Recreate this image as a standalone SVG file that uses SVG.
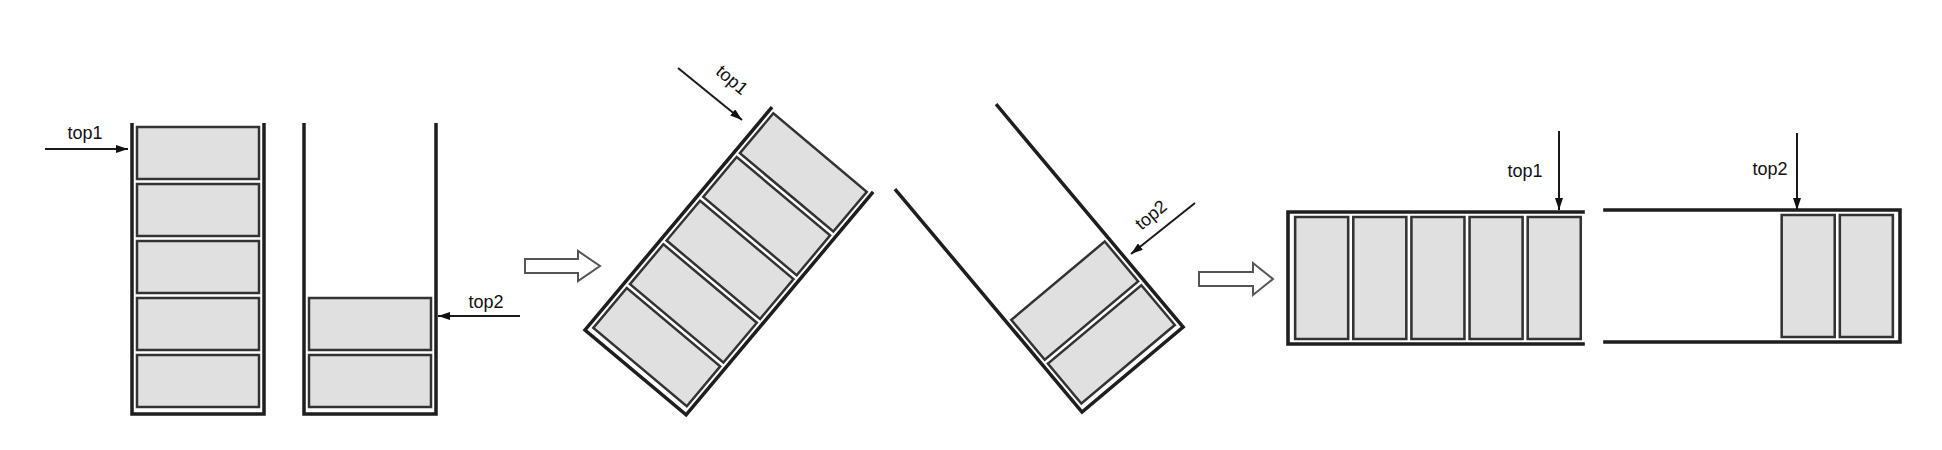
<svg xmlns="http://www.w3.org/2000/svg" xmlns:xlink="http://www.w3.org/1999/xlink" width="1942" height="450" viewBox="0 0 1942 450">
<style>
.wall{stroke:#1e1e1e;stroke-width:3.5;fill:none;stroke-linejoin:miter}
.cell{fill:#e0e0e0;stroke:#333;stroke-width:2.5}
.ptr{stroke:#1a1a1a;stroke-width:2;fill:none}
.lbl{font-family:"Liberation Sans",Arial,sans-serif;font-size:18px;fill:#111}
.hollow{fill:#fff;stroke:#555;stroke-width:2;stroke-linejoin:miter}
</style>
<defs>
<marker id="ah" viewBox="0 0 12 8" refX="12" refY="4" markerWidth="12" markerHeight="8" markerUnits="userSpaceOnUse" orient="auto"><path d="M0,0 L12,4 L0,8 Z" fill="#111"/></marker>
<path id="frame" class="wall" d="M0,-291 V0 H132 V-291"/>
<rect id="c0" class="cell" x="5" y="-59" width="122" height="52"/>
<rect id="c1" class="cell" x="5" y="-116" width="122" height="52"/>
<rect id="c2" class="cell" x="5" y="-173" width="122" height="52"/>
<rect id="c3" class="cell" x="5" y="-230" width="122" height="52"/>
<rect id="c4" class="cell" x="5" y="-287" width="122" height="52"/>
<g id="full"><use xlink:href="#c0"/><use xlink:href="#c1"/><use xlink:href="#c2"/><use xlink:href="#c3"/><use xlink:href="#c4"/><use xlink:href="#frame"/></g>
<g id="two"><use xlink:href="#c0"/><use xlink:href="#c1"/><use xlink:href="#frame"/></g>
</defs>

<g id="stack1-upright" transform="translate(132,414)"><use xlink:href="#full"/></g>
<g id="stack2-upright" transform="translate(304,414)"><use xlink:href="#two"/></g>
<g id="stack1-tilted" transform="translate(585,330) rotate(40)"><use xlink:href="#full"/></g>
<g id="stack2-tilted" transform="translate(1082,412) rotate(-40)"><use xlink:href="#two"/></g>
<g id="stack1-flat" transform="translate(1288,212) rotate(90) scale(1,1.02)"><use xlink:href="#full"/></g>
<g id="stack2-flat" transform="translate(1900,342) rotate(-90) scale(1,1.02)"><use xlink:href="#two"/></g>

<g id="step-arrows">
<path class="hollow" d="M525,259 H578 V251 L600,266 L578,281 V273 H525 Z"/>
<path class="hollow" d="M1199,272 H1253 V263 L1273,279 L1253,295 V286 H1199 Z"/>
</g>

<g id="connectors">
<line class="ptr" x1="45" y1="149" x2="128" y2="149" marker-end="url(#ah)"/>
<line class="ptr" x1="520" y1="316" x2="438" y2="316" marker-end="url(#ah)"/>
<line class="ptr" x1="678" y1="68" x2="742" y2="120" marker-end="url(#ah)"/>
<line class="ptr" x1="1195" y1="203" x2="1131" y2="254" marker-end="url(#ah)"/>
<line class="ptr" x1="1559" y1="131" x2="1559" y2="210" marker-end="url(#ah)"/>
<line class="ptr" x1="1797" y1="133" x2="1797" y2="210" marker-end="url(#ah)"/>
</g>

<g id="labels">
<text class="lbl" x="85" y="139" text-anchor="middle">top1</text>
<text class="lbl" x="486" y="308" text-anchor="middle">top2</text>
<text class="lbl" text-anchor="middle" dominant-baseline="central" transform="translate(732,80) rotate(40)">top1</text>
<text class="lbl" text-anchor="middle" dominant-baseline="central" transform="translate(1151,215) rotate(-40)">top2</text>
<text class="lbl" x="1525" y="177" text-anchor="middle">top1</text>
<text class="lbl" x="1770" y="175" text-anchor="middle">top2</text>
</g>
</svg>
